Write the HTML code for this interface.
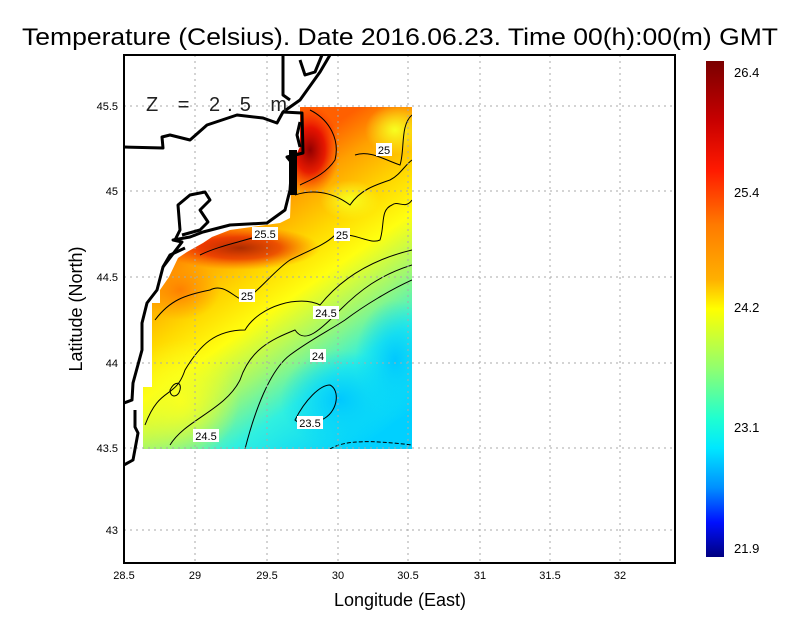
<!DOCTYPE html>
<html><head><meta charset="utf-8"><style>
html,body{margin:0;padding:0;background:#fff;}
svg{display:block;font-family:"Liberation Sans",sans-serif;}
</style></head><body>
<svg width="800" height="618" viewBox="0 0 800 618" xmlns="http://www.w3.org/2000/svg">
<defs>
<linearGradient id="cb" x1="0" y1="0" x2="0" y2="1">
<stop offset="0" stop-color="#7a0000"/>
<stop offset="0.12" stop-color="#c80000"/>
<stop offset="0.22" stop-color="#ff1a00"/>
<stop offset="0.33" stop-color="#ff7a00"/>
<stop offset="0.44" stop-color="#ffb000"/>
<stop offset="0.5" stop-color="#ffff00"/>
<stop offset="0.62" stop-color="#90ff70"/>
<stop offset="0.72" stop-color="#20ffd0"/>
<stop offset="0.78" stop-color="#00e8ff"/>
<stop offset="0.86" stop-color="#0090ff"/>
<stop offset="0.93" stop-color="#0010ff"/>
<stop offset="1" stop-color="#000080"/>
</linearGradient>
<linearGradient id="fld" gradientUnits="userSpaceOnUse" x1="240" y1="190" x2="400" y2="420">
<stop offset="0" stop-color="#ff6000"/>
<stop offset="0.12" stop-color="#ffa000"/>
<stop offset="0.28" stop-color="#ffd800"/>
<stop offset="0.42" stop-color="#ffff10"/>
<stop offset="0.58" stop-color="#a0f870"/>
<stop offset="0.74" stop-color="#30f0e0"/>
<stop offset="1" stop-color="#00d0ff"/>
</linearGradient>
<radialGradient id="dr" cx="0.5" cy="0.5" r="0.5">
<stop offset="0" stop-color="#900000"/><stop offset="0.5" stop-color="#e00000" stop-opacity="0.8"/><stop offset="1" stop-color="#ff3000" stop-opacity="0"/>
</radialGradient>
<radialGradient id="or" cx="0.5" cy="0.5" r="0.5">
<stop offset="0" stop-color="#ff8000"/><stop offset="1" stop-color="#ff9000" stop-opacity="0"/>
</radialGradient>
<radialGradient id="ye" cx="0.5" cy="0.5" r="0.5">
<stop offset="0" stop-color="#f8ff20"/><stop offset="1" stop-color="#f8ff20" stop-opacity="0"/>
</radialGradient>
<radialGradient id="cy" cx="0.5" cy="0.5" r="0.5">
<stop offset="0" stop-color="#00c8ff"/><stop offset="1" stop-color="#00d8ff" stop-opacity="0"/>
</radialGradient>
<clipPath id="dc"><polygon points="307,107 412,107 412,449 143,449 143,387 152,387 152,303 160,303 160,290 169,277 178,258 187,252 203,243 212,237 230,230 280,223 290,218 292,163 300,147 300,107"/></clipPath>
<clipPath id="pc"><rect x="124" y="55" width="551" height="508"/></clipPath>
</defs>
<text x="400" y="45" text-anchor="middle" font-size="24" textLength="756" lengthAdjust="spacingAndGlyphs">Temperature (Celsius). Date 2016.06.23. Time 00(h):00(m) GMT</text>

<g clip-path="url(#dc)">
<rect x="124" y="100" width="300" height="360" fill="url(#fld)"/>
<ellipse cx="310" cy="150" rx="30" ry="45" fill="url(#dr)"/>
<ellipse cx="240" cy="248" rx="80" ry="22" fill="url(#dr)" opacity="0.75"/>
<ellipse cx="180" cy="290" rx="40" ry="30" fill="url(#or)"/>
<ellipse cx="350" cy="200" rx="30" ry="20" fill="url(#ye)"/>
<ellipse cx="395" cy="130" rx="30" ry="25" fill="url(#ye)"/>
<ellipse cx="180" cy="400" rx="60" ry="60" fill="url(#ye)"/>
<ellipse cx="340" cy="400" rx="60" ry="50" fill="url(#cy)"/>
<ellipse cx="395" cy="360" rx="40" ry="60" fill="url(#cy)"/>
<g fill="none" stroke="#000" stroke-width="1">
<path d="M145,425 C160,385 175,400 185,370 C200,345 215,330 245,330 C260,305 300,295 320,305 C340,280 370,260 412,250"/>
<path d="M170,445 C185,420 225,410 240,380 C250,350 270,340 295,330 C305,345 320,330 340,310 C360,290 380,275 412,265"/>
<path d="M245,449 C255,410 270,370 290,355 C310,340 330,330 345,320 C365,305 390,290 412,280"/>
<path d="M295,420 C305,400 320,385 330,385 C340,390 338,410 325,418 C315,425 300,425 295,420Z"/>
<path d="M170,390 C175,380 182,382 180,390 C178,398 170,398 170,390Z"/>
<path d="M155,320 C170,300 185,295 210,290 C225,282 235,300 245,300 C260,290 275,270 290,260 C310,250 325,245 335,235 C355,232 370,245 380,240 C385,225 380,210 392,205 C398,200 405,210 412,200"/>
<path d="M295,195 C310,190 330,190 350,205 C360,190 375,185 390,180 C400,175 405,165 412,160"/>
<path d="M310,110 C330,120 340,140 335,160 C325,175 310,180 300,185"/>
<path d="M355,155 C370,150 385,160 400,165 C405,150 400,125 412,115"/>
<path d="M200,255 C220,245 250,240 270,232"/>
<path d="M330,449 C345,440 370,440 412,445" stroke-dasharray="4,2"/>
</g>
</g>

<g stroke="#aaa" stroke-width="1" stroke-dasharray="2,4" clip-path="url(#pc)">
<line x1="195" y1="55" x2="195" y2="563"/><line x1="267" y1="55" x2="267" y2="563"/><line x1="338" y1="55" x2="338" y2="563"/><line x1="408" y1="55" x2="408" y2="563"/><line x1="480" y1="55" x2="480" y2="563"/><line x1="550" y1="55" x2="550" y2="563"/><line x1="620" y1="55" x2="620" y2="563"/>
<line x1="124" y1="106" x2="675" y2="106"/><line x1="124" y1="191" x2="675" y2="191"/><line x1="124" y1="277" x2="675" y2="277"/><line x1="124" y1="363" x2="675" y2="363"/><line x1="124" y1="448" x2="675" y2="448"/><line x1="124" y1="530" x2="675" y2="530"/>
</g>

<g clip-path="url(#pc)" fill="none" stroke="#000" stroke-width="3" stroke-linejoin="round">
<path d="M283,55 L283,95 L290,100"/>
<path d="M300,60 L305,75 L315,72 L322,55"/>
<path d="M124,147 L163,148 L162,137 L170,135 L190,140 L207,125 L237,115 L263,118 L277,123 L283,112 L300,100 L320,72 L330,55"/>
<path d="M283,112 L302,113 L303,153 L287,157 L292,163 L290,190 L285,210 L267,223 L230,225 L203,232 L190,237 L173,240 L182,242 L163,267 L157,290 L147,303 L142,323 L142,350 L133,383 L132,400 L124,403"/>
<path d="M135,410 L135,427 L138,433 L133,460 L124,465"/>
<path d="M175,240 L180,230 L178,205 L190,195 L205,192 L210,200 L200,210 L208,222 L200,230 L182,235"/>
<path d="M163,267 L170,255 L185,248"/>
<path d="M300,147 L297,135 L300,122"/>
</g>
<rect x="289" y="150" width="8" height="45" fill="#000"/>

<g font-size="11" text-anchor="middle">
<rect x="252" y="227" width="26" height="13" fill="#fff"/><text x="265" y="238">25.5</text>
<rect x="376" y="143" width="16" height="13" fill="#fff"/><text x="384" y="154">25</text>
<rect x="334" y="228" width="16" height="13" fill="#fff"/><text x="342" y="239">25</text>
<rect x="239" y="289" width="16" height="13" fill="#fff"/><text x="247" y="300">25</text>
<rect x="313" y="306" width="26" height="13" fill="#fff"/><text x="326" y="317">24.5</text>
<rect x="310" y="349" width="16" height="13" fill="#fff"/><text x="318" y="360">24</text>
<rect x="297" y="416" width="26" height="13" fill="#fff"/><text x="310" y="427">23.5</text>
<rect x="193" y="429" width="26" height="13" fill="#fff"/><text x="206" y="440">24.5</text>
</g>
<text x="146" y="111" font-size="20" letter-spacing="7" fill="#222">Z = 2.5 m</text>

<rect x="124" y="55" width="551" height="508" fill="none" stroke="#000" stroke-width="2"/>
<g font-size="11" text-anchor="middle">
<text x="124" y="579">28.5</text><text x="195" y="579">29</text><text x="267" y="579">29.5</text><text x="338" y="579">30</text><text x="408" y="579">30.5</text><text x="480" y="579">31</text><text x="550" y="579">31.5</text><text x="620" y="579">32</text>
</g>
<g font-size="11" text-anchor="end">
<text x="118" y="110">45.5</text><text x="118" y="195">45</text><text x="118" y="281">44.5</text><text x="118" y="367">44</text><text x="118" y="452">43.5</text><text x="118" y="534">43</text>
</g>
<text x="400" y="606" text-anchor="middle" font-size="18">Longitude (East)</text>
<text transform="translate(82,309) rotate(-90)" text-anchor="middle" font-size="18">Latitude (North)</text>

<rect x="706" y="61" width="18" height="496" fill="url(#cb)"/>
<g font-size="13">
<text x="734" y="77">26.4</text><text x="734" y="197">25.4</text><text x="734" y="312">24.2</text><text x="734" y="432">23.1</text><text x="734" y="553">21.9</text>
</g>
</svg>
</body></html>
